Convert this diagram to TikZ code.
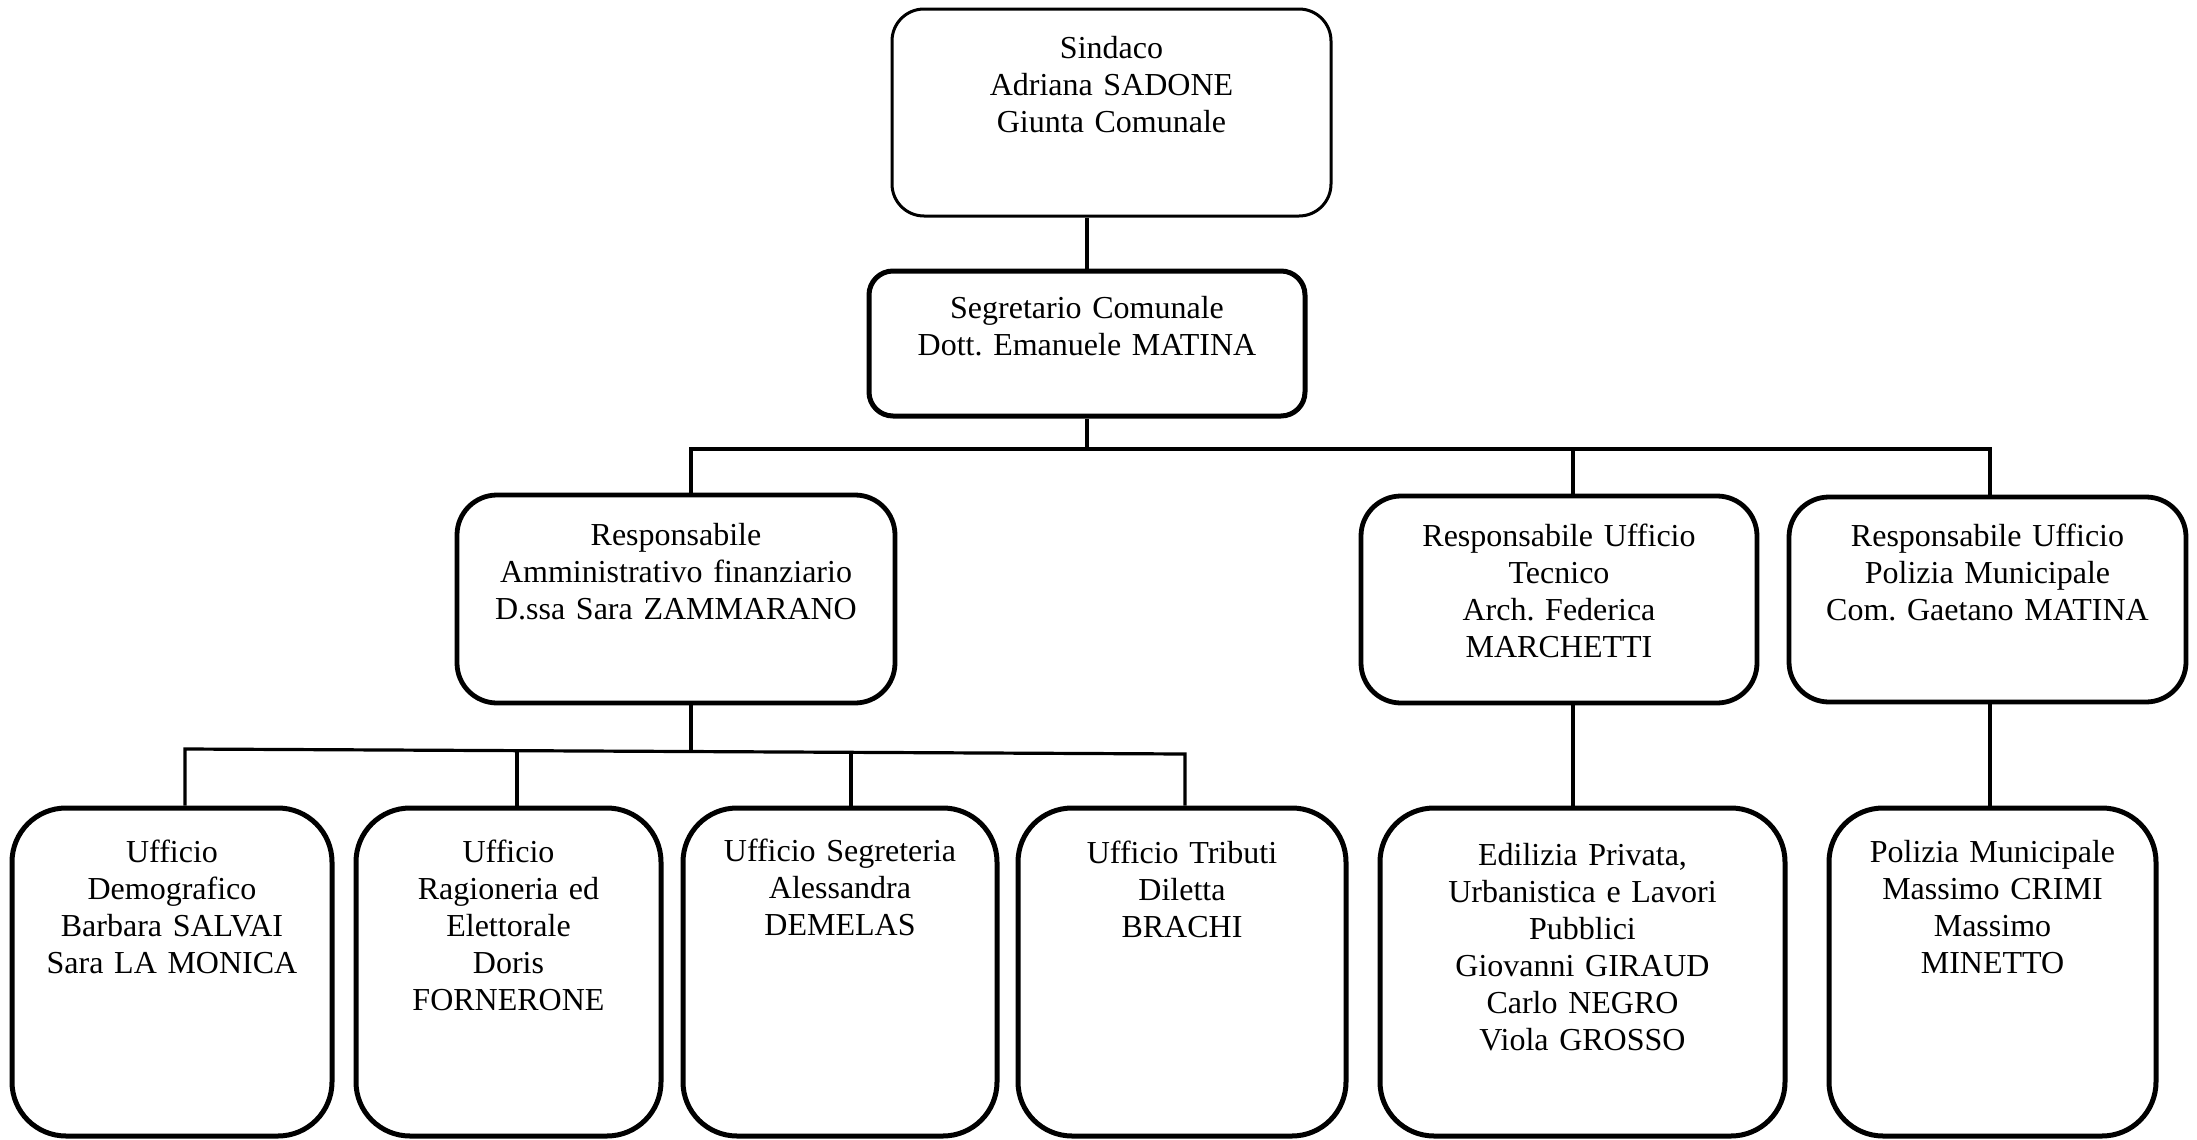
\documentclass[tikz,border=0pt]{standalone}
\usepackage{fontspec}
\setmainfont{Liberation Serif}
\usetikzlibrary{fit,calc}
\frenchspacing
\begin{document}
\begin{tikzpicture}[x=0.5pt,y=-0.5pt,
  box/.style={draw=black, inner sep=0pt, line width=2.4pt, rounded corners=20pt},
  thinbox/.style={box, line width=1.5pt, rounded corners=16pt},
  segbox/.style={box, line width=2.5pt, rounded corners=12pt},
  lowbox/.style={box, line width=2.5pt, rounded corners=27pt},
  txt/.style={anchor=base, inner sep=0pt, align=center, text width=225pt,
    font=\fontsize{16pt}{18.5pt}\selectfont\frenchspacing},
  conn/.style={draw=black, line width=1.6pt}]
\fill[white] (0,0) rectangle (2197,1140);
\useasboundingbox (0,0) rectangle (2197,1140);

% boxes
\node[thinbox, fit={(892,9) (1331,216)}] (sin) {};
\node[segbox, fit={(869,271) (1305,416)}] (seg) {};
\node[box, fit={(457,495) (895,703)}] (ra) {};
\node[box, fit={(1361,496) (1757,703)}] (rt) {};
\node[box, fit={(1789,497) (2186,702)}] (rp) {};
\node[lowbox, fit={(12,808) (332,1136)}] (b1) {};
\node[lowbox, fit={(356,808) (661,1136)}] (b2) {};
\node[lowbox, fit={(683,808) (997,1136)}] (b3) {};
\node[lowbox, fit={(1018,808) (1346,1136)}] (b4) {};
\node[lowbox, fit={(1380,808) (1785,1136)}] (b5) {};
\node[lowbox, fit={(1829,808) (2156,1136)}] (b6) {};

% texts
\node[txt] (tsin) at ($(sin.north)+(0,51)$) {Sindaco\\Adriana SADONE\\Giunta Comunale};
\node[txt] (tseg) at ($(seg.north)+(0,50)$) {Segretario Comunale\\Dott. Emanuele MATINA};
\node[txt] (tra) at ($(ra.north)+(0,53)$) {Responsabile\\Amministrativo finanziario\\D.ssa Sara ZAMMARANO};
\node[txt] (trt) at ($(rt.north)+(0,53)$) {Responsabile Ufficio\\Tecnico\\Arch. Federica\\MARCHETTI};
\node[txt] (trp) at ($(rp.north)+(0,52)$) {Responsabile Ufficio\\Polizia Municipale\\Com. Gaetano MATINA};
\node[txt] (tb1) at ($(b1.north)+(0,57)$) {Ufficio\\Demografico\\Barbara SALVAI\\Sara LA MONICA};
\node[txt] (tb2) at ($(b2.north)+(0,57)$) {Ufficio\\Ragioneria ed\\Elettorale\\Doris\\FORNERONE};
\node[txt] (tb3) at ($(b3.north)+(0,56)$) {Ufficio Segreteria\\Alessandra\\DEMELAS};
\node[txt] (tb4) at ($(b4.north)+(0,58)$) {Ufficio Tributi\\Diletta\\BRACHI};
\node[txt] (tb5) at ($(b5.north)+(0,60)$) {Edilizia Privata,\\Urbanistica e Lavori\\Pubblici\\Giovanni GIRAUD\\Carlo NEGRO\\Viola GROSSO};
\node[txt] (tb6) at ($(b6.north)+(0,57)$) {Polizia Municipale\\Massimo CRIMI\\Massimo\\MINETTO};

% bus junctions
\coordinate (j1) at (691,449);
\coordinate (j2) at (1573,449);
\coordinate (j3) at (1990,449);
\coordinate (k) at (691,751.5);
\coordinate (d1) at (185,749);
\coordinate (d2) at (517,750.7);
\coordinate (d3) at (851,752.3);
\coordinate (d4) at (1185,754);

% connectors
\draw[conn] (seg.north) -- (seg.north |- sin.south);
\draw[conn] (seg.south) -- (seg.south |- j1);
\draw[conn] (j1 |- ra.north) -- (j1) -- (j3) -- (j3 |- rp.north);
\draw[conn] (j2) -- (j2 |- rt.north);
\draw[conn] (j1 |- ra.south) -- (k);
\draw[conn] (d1 |- b1.north) -- (d1) -- (d4) -- (d4 |- b4.north);
\draw[conn] (d2) -- (d2 |- b2.north);
\draw[conn] (d3) -- (d3 |- b3.north);
\draw[conn] (j2 |- rt.south) -- (j2 |- b5.north);
\draw[conn] (j3 |- rp.south) -- (j3 |- b6.north);
\end{tikzpicture}
\end{document}
